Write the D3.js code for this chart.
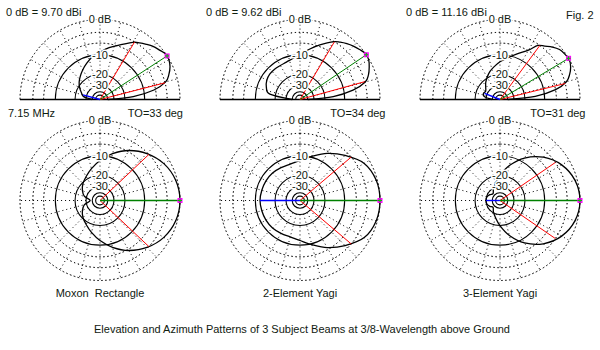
<!DOCTYPE html>
<html>
<head>
<meta charset="utf-8">
<script src="https://cdn.jsdelivr.net/npm/d3@7"></script>
<style>
  body { margin: 0; background: #fff; }
  svg text { font-family: "Liberation Sans", Arial, sans-serif; font-size: 11px; fill: #102010; white-space: pre; }
</style>
</head>
<body>
<div id="chart"></div>
<script>
// antenna names and header texts
let beamNames = ["Moxon  Rectangle", "2-Element Yagi", "3-Element Yagi"];
let refGains = ["0 dB = 9.70 dBi", "0 dB = 9.62 dBi", "0 dB = 11.16 dBi"];
let takeOffLabels = ["TO=33 deg", "TO=34 deg", "TO=31 deg"];
let takeOff = [33, 34, 31];

// elevation patterns (dB re max) at these angles above the horizon
let elevAngles = [0, 5, 10, 15, 20, 25, 30, 35, 40, 45, 50, 55, 60, 70, 80, 90, 100, 110, 120, 130, 140, 150, 160, 170, 180];
let elevMoxon = [-40, -15, -6.5, -2.8, -1.5, -0.6, -0.1, -0.05, -0.6, -1.1, -1.8, -2.5, -3.3, -5.5, -7.2, -9.0, -10.5, -12.5, -14.5, -16.5, -18.5, -21, -24, -27, -40];
let elev2El = [-40, -15, -6.8, -2.9, -1.6, -0.8, -0.15, -0.02, -0.5, -1.0, -1.6, -2.3, -3.1, -5.5, -7.8, -10, -11.2, -12, -12.2, -12.1, -12.1, -12.6, -13.8, -16.5, -40];
let elev3El = [-40, -14, -6, -2.6, -1.3, -0.45, -0.02, -0.2, -0.5, -1.3, -2.4, -3.3, -5.8, -8.7, -11, -12.9, -15, -17, -19.5, -22, -25, -27, -26, -28, -40];

// azimuth patterns (dB re max), 0..180 deg, the other side is the mirror
let azAngles = [0, 15, 30, 45, 60, 75, 90, 105, 120, 135, 150, 165, 180];
let azMoxon = [0, -0.35, -1.4, -3.2, -5.6, -8.6, -11.9, -15.2, -18.2, -20.6, -23.5, -27.5, -36];
let az2El = [0, -0.25, -1.3, -3.9, -6.6, -9.6, -11.9, -12.9, -12.8, -12.4, -12.2, -12.1, -11.9];
let az3El = [0, -0.5, -2.0, -4.6, -8.4, -13.6, -19.8, -26, -31, -36, -33, -30.5, -30];

// -3 dB beamwidth directions, and back direction markers [angle, dB]
let elevHalfPower = [[59, 14.4], [59.2, 15.4], [53.6, 13.8]];
let azHalfPower = [43.3, 40.3, 34.5];
let elevBack = [[165, -26], null, [158, -27]];
let azBack = [null, [180, -11.9], [180, -30]];

let elevData = [elevMoxon, elev2El, elev3El];
let azData = [azMoxon, az2El, az3El];

// grid rings
let dottedRings = [0, -3, -6];
let solidRings = [-10, -20, -30, -40, -50];
let ringLabels = [[0, "0 dB"], [-10, "-10"], [-20, "-20"], [-30, "-30"]];

let width = 600, height = 350, R = 80;
let colX = [100, 300, 500];
let elevY = 99.5, azY = 200.5;

let svg = d3.select("#chart")
  .append("svg")
  .attr("width", width)
  .attr("height", height);

// ARRL log scale: radius shrinks by 0.89 every 2 dB
let rScale = d3.scaleLog()
  .domain([R * Math.pow(0.89, 30), R])
  .range([-60, 0]);
let r = function (db) { return rScale.invert(db); };

let rad = function (deg) { return deg * Math.PI / 180; };
// math angle (ccw from +x) to d3 radial angle (cw from up)
let ang = function (deg) { return Math.PI / 2 - rad(deg); };

function drawGrid(g, half) {
  let a0 = half ? -Math.PI / 2 : 0, a1 = half ? Math.PI / 2 : 2 * Math.PI;
  let arc = d3.arc().startAngle(a0).endAngle(a1);

  // radial spokes
  let spokes = d3.range(0, half ? 181 : 360, 15);
  g.selectAll(".spoke")
    .data(spokes)
    .enter()
    .append("line")
    .attr("x1", d => r(-30) * Math.cos(rad(d)))
    .attr("y1", d => -r(-30) * Math.sin(rad(d)))
    .attr("x2", d => R * Math.cos(rad(d)))
    .attr("y2", d => -R * Math.sin(rad(d)))
    .attr("stroke", "#000")
    .attr("stroke-width", 1)
    .attr("stroke-dasharray", "1,3");

  g.selectAll(".dring")
    .data(dottedRings)
    .enter()
    .append("path")
    .attr("d", d => arc({ innerRadius: r(d), outerRadius: r(d) }))
    .attr("fill", "none")
    .attr("stroke", "#000")
    .attr("stroke-width", 1)
    .attr("stroke-dasharray", "1,3");

  g.selectAll(".sring")
    .data(solidRings)
    .enter()
    .append("path")
    .attr("d", d => arc({ innerRadius: r(d), outerRadius: r(d) }))
    .attr("fill", "none")
    .attr("stroke", "#000")
    .attr("stroke-width", 1.1);

  if (half) {
    g.append("line")
      .attr("x1", -R).attr("x2", R)
      .attr("y1", 0).attr("y2", 0)
      .attr("stroke", "#000")
      .attr("stroke-width", 1.3);
  }
}

function drawLabels(g) {
  g.selectAll(".rlab")
    .data(ringLabels)
    .enter()
    .append("text")
    .attr("x", 0)
    .attr("y", d => -r(d[0]))
    .attr("dy", "0.35em")
    .attr("text-anchor", "middle")
    .style("stroke", "#fff")
    .style("stroke-width", 3)
    .style("paint-order", "stroke")
    .text(d => d[1]);
}

function drawMarkers(g, maxAngle, halfAngles, back) {
  halfAngles.forEach(function (a) {
    g.append("line")
      .attr("x1", 0).attr("y1", 0)
      .attr("x2", r(-3) * Math.cos(rad(a)))
      .attr("y2", -r(-3) * Math.sin(rad(a)))
      .attr("stroke", "#ff0000")
      .attr("stroke-width", 1);
  });
  if (back) {
    g.append("line")
      .attr("x1", 0).attr("y1", 0)
      .attr("x2", r(back[1]) * Math.cos(rad(back[0])))
      .attr("y2", -r(back[1]) * Math.sin(rad(back[0])))
      .attr("stroke", "#0000ff")
      .attr("stroke-width", 1.4);
  }
  let mx = R * Math.cos(rad(maxAngle)), my = -R * Math.sin(rad(maxAngle));
  g.append("line")
    .attr("x1", 0).attr("y1", 0)
    .attr("x2", mx).attr("y2", my)
    .attr("stroke", "#008000")
    .attr("stroke-width", maxAngle == 0 ? 1.6 : 1);
  g.append("rect")
    .attr("x", mx - 2.5).attr("y", my - 2.5)
    .attr("width", 5).attr("height", 5)
    .attr("fill", "#ff00ff");
  g.append("path")
    .attr("d", `M${mx - 2},${my}H${mx + 2}M${mx},${my - 2}V${my + 2}`)
    .attr("stroke", "#00c000")
    .attr("stroke-width", 1);
}

beamNames.forEach(function (name, i) {
  // elevation plot (upper half)
  let ge = svg.append("g").attr("transform", `translate(${colX[i]},${elevY})`);
  drawGrid(ge, true);

  let elevPts = elevAngles.map((a, k) => [a, elevData[i][k]]);
  ge.append("path")
    .datum(elevPts)
    .attr("d", d3.lineRadial()
      .curve(d3.curveCardinal)
      .angle(d => ang(d[0]))
      .radius(d => r(d[1])))
    .attr("fill", "none")
    .attr("stroke", "#000")
    .attr("stroke-width", 1.3);

  drawMarkers(ge, takeOff[i], elevHalfPower[i], elevBack[i]);
  drawLabels(ge);

  // azimuth plot (full circle)
  let ga = svg.append("g").attr("transform", `translate(${colX[i]},${azY})`);
  drawGrid(ga, false);

  let azPts = azAngles.map((a, k) => [a, azData[i][k]]);
  let mirror = azAngles.slice(1, -1).reverse().map(a => [360 - a, azData[i][azAngles.indexOf(a)]]);
  ga.append("path")
    .datum(azPts.concat(mirror))
    .attr("d", d3.lineRadial()
      .curve(d3.curveCardinalClosed)
      .angle(d => ang(d[0]))
      .radius(d => r(d[1])))
    .attr("fill", "none")
    .attr("stroke", "#000")
    .attr("stroke-width", 1.3);

  drawMarkers(ga, 0, [azHalfPower[i], -azHalfPower[i]], azBack[i]);
  drawLabels(ga);

  // texts
  svg.append("text")
    .attr("x", colX[i] - 94)
    .attr("y", 16)
    .text(refGains[i]);

  svg.append("text")
    .attr("x", colX[i] + 83 + (i == 0 ? 0 : 2.5))
    .attr("y", 117)
    .attr("text-anchor", "end")
    .text(takeOffLabels[i]);

  svg.append("text")
    .attr("x", colX[i])
    .attr("y", 297)
    .attr("text-anchor", "middle")
    .text(name);
});

svg.append("text")
  .attr("x", 8)
  .attr("y", 117)
  .text("7.15 MHz");

svg.append("text")
  .attr("x", 566)
  .attr("y", 19)
  .text("Fig. 2");

svg.append("text")
  .attr("x", 302)
  .attr("y", 333)
  .attr("text-anchor", "middle")
  .text("Elevation and Azimuth Patterns of 3 Subject Beams at 3/8-Wavelength above Ground");
</script>
</body>
</html>
